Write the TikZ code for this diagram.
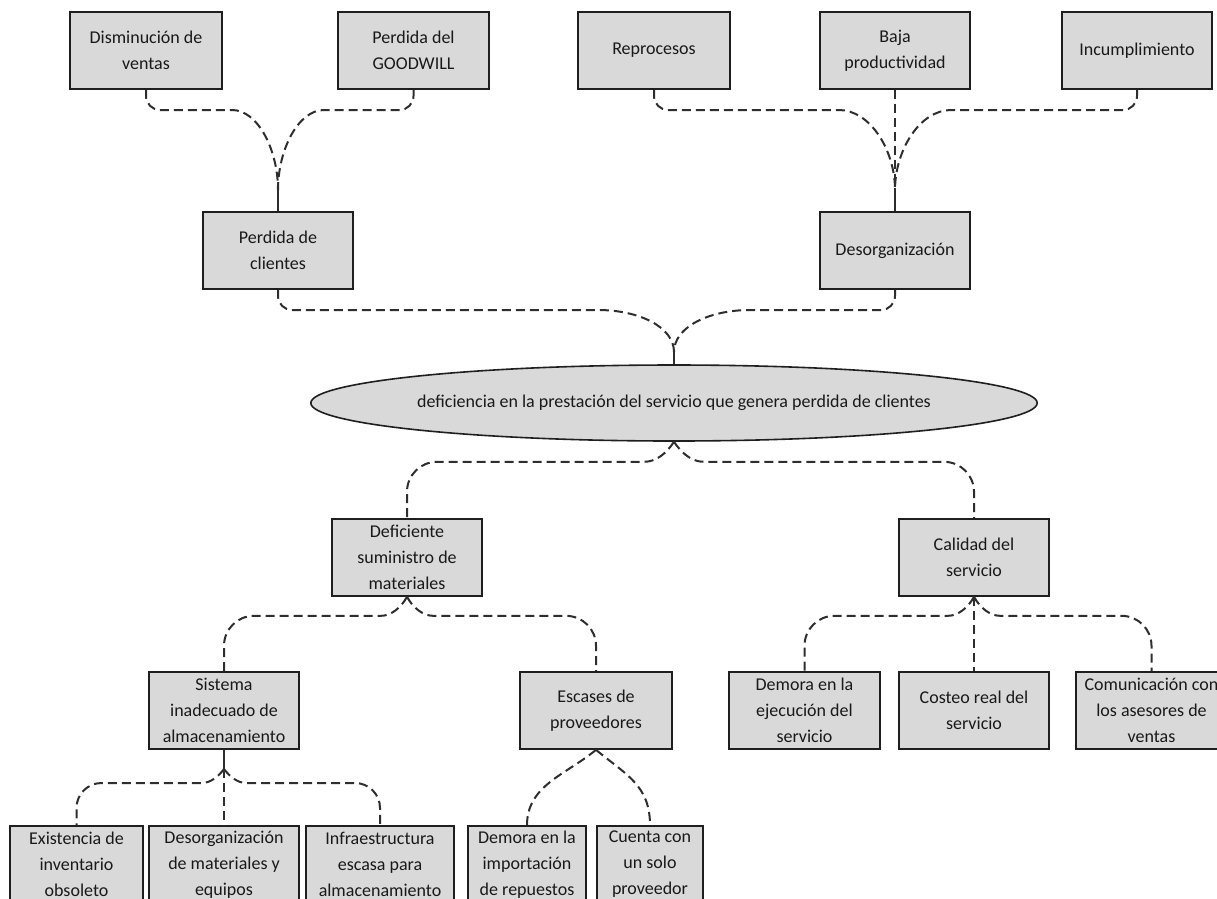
\documentclass[tikz,border=0pt]{standalone}
\usepackage{fontspec}
\setmainfont{Carlito}
\usetikzlibrary{shapes.geometric,calc}
\definecolor{boxfill}{HTML}{D9D9D9}
\definecolor{boxline}{HTML}{1F1F1F}
\definecolor{linkgray}{HTML}{2E2E2E}
\begin{document}
\begin{tikzpicture}[x=1pt,y=-1pt,
  every node/.style={font=\fontsize{18}{26}\selectfont, text=black!90},
  cell/.style={draw=boxline, fill=boxfill, line width=1.6pt, rectangle,
    minimum height=77pt, inner sep=0pt, align=center},
  w/.style={minimum width=#1pt},
  oval/.style={draw=boxline, fill=boxfill, line width=1.6pt, ellipse,
    minimum width=722pt, minimum height=76pt, inner sep=0pt},
  link/.style={draw=linkgray, line width=2pt, dash pattern=on 9pt off 5pt},
  stem/.style={draw=linkgray, line width=2pt},
]
\useasboundingbox (0,0) rectangle (1217,898);

% effects
\node[cell, w=152] (A1) at (146,50.5) {Disminución de\\ventas};
\node[cell, w=151] (A2) at (413.5,50.5) {Perdida del\\GOODWILL};
\node[cell, w=152] (A3) at (654,50.5) {Reprocesos};
\node[cell, w=150] (A4) at (895,50.5) {Baja\\productividad};
\node[cell, w=150] (A5) at (1137,50.5) {Incumplimiento};

\node[cell, w=150] (B1) at (278,250.5) {Perdida de\\clientes};
\node[cell, w=150] (B2) at (895,250.5) {Desorganización};

% central problem
\node[oval] (P) at (674,403) {deficiencia en la prestación del servicio que genera perdida de clientes};

% causes
\node[cell, w=150] (C1) at (407,557.5) {Deficiente\\suministro de\\materiales};
\node[cell, w=150] (C2) at (974,557.5) {Calidad del\\servicio};

\node[cell, w=150] (D1) at (224,710.5) {Sistema\\inadecuado de\\almacenamiento};
\node[cell, w=152] (D2) at (596,710.5) {Escases de\\proveedores};
\node[cell, w=151] (D3) at (804.5,710.5) {Demora en la\\ejecución del\\servicio};
\node[cell, w=150] (D4) at (974,710.5) {Costeo real del\\servicio};
\node[cell, w=151] (D5) at (1151.5,710.5) {Comunicación con\\los asesores de\\ventas};

\node[cell, w=133] (E1) at (76.5,864.5) {Existencia de\\inventario\\obsoleto};
\node[cell, w=150] (E2) at (224,864.5) {Desorganización\\de materiales y\\equipos};
\node[cell, w=148] (E3) at (380,864.5) {Infraestructura\\escasa para\\almacenamiento};
\node[cell, w=118] (E4) at (527,864.5) {Demora en la\\importación\\de repuestos};
\node[cell, w=106] (E5) at (650,864.5) {Cuenta con\\un solo\\proveedor};

% junction points
\coordinate (J1) at (278,190);
\coordinate (J2) at (895,190);
\coordinate (J3) at (674,352);
\coordinate (K1) at (224,769);

% effects converge upwards
\draw[link, rounded corners=14pt] (A1.south) |- ($(J1)+(-60,-80)$) .. controls +(40,0) and +(0,-40) .. (J1);
\draw[link, rounded corners=14pt] (A2.south) |- ($(J1)+(60,-80)$) .. controls +(-40,0) and +(0,-40) .. (J1);
\draw[stem] (J1) -- (B1.north);

\draw[link, rounded corners=14pt] (A3.south) |- ($(J2)+(-70,-80)$) .. controls +(45,0) and +(0,-40) .. (J2);
\draw[link, rounded corners=14pt] (A5.south) |- ($(J2)+(70,-80)$) .. controls +(-45,0) and +(0,-40) .. (J2);
\draw[link] (A4.south) -- (J2);
\draw[stem] (J2) -- (B2.north);

\draw[link, rounded corners=14pt] (B1.south) |- ($(J3)+(-90,-42)$) .. controls +(55,0) and +(0,-25) .. (J3);
\draw[link, rounded corners=14pt] (B2.south) |- ($(J3)+(90,-42)$) .. controls +(-55,0) and +(0,-25) .. (J3);
\draw[stem] (J3) -- (P.north);

% causes branch downwards
\draw[link] (P.south) .. controls +(-8,12) and +(12,0) .. ++(-30,20) [rounded corners=30pt] -| (C1.north);
\draw[link] (P.south) .. controls +(8,12) and +(-12,0) .. ++(30,20) [rounded corners=30pt] -| (C2.north);

\draw[link] (C1.south) .. controls +(-6,11) and +(10,0) .. ++(-26,19) [rounded corners=30pt] -| (D1.north);
\draw[link] (C1.south) .. controls +(6,11) and +(-10,0) .. ++(26,19) [rounded corners=30pt] -| (D2.north);

\draw[link] (C2.south) .. controls +(-6,11) and +(10,0) .. ++(-26,19) [rounded corners=30pt] -| (D3.north);
\draw[link] (C2.south) -- (D4.north);
\draw[link] (C2.south) .. controls +(6,11) and +(-10,0) .. ++(26,19) [rounded corners=30pt] -| (D5.north);

\draw[stem] (D1.south) -- (K1);
\draw[link] (K1) .. controls +(-6,8) and +(8,0) .. ++(-22,14) [rounded corners=25pt] -| (E1.north);
\draw[link] (K1) -- (E2.north);
\draw[link] (K1) .. controls +(6,8) and +(-8,0) .. ++(22,14) [rounded corners=25pt] -| (E3.north);

\draw[link] (D2.south) .. controls +(-30,25) and +(0,-40) .. (E4.north);
\draw[link] (D2.south) .. controls +(30,25) and +(0,-40) .. (E5.north);
\end{tikzpicture}
\end{document}
